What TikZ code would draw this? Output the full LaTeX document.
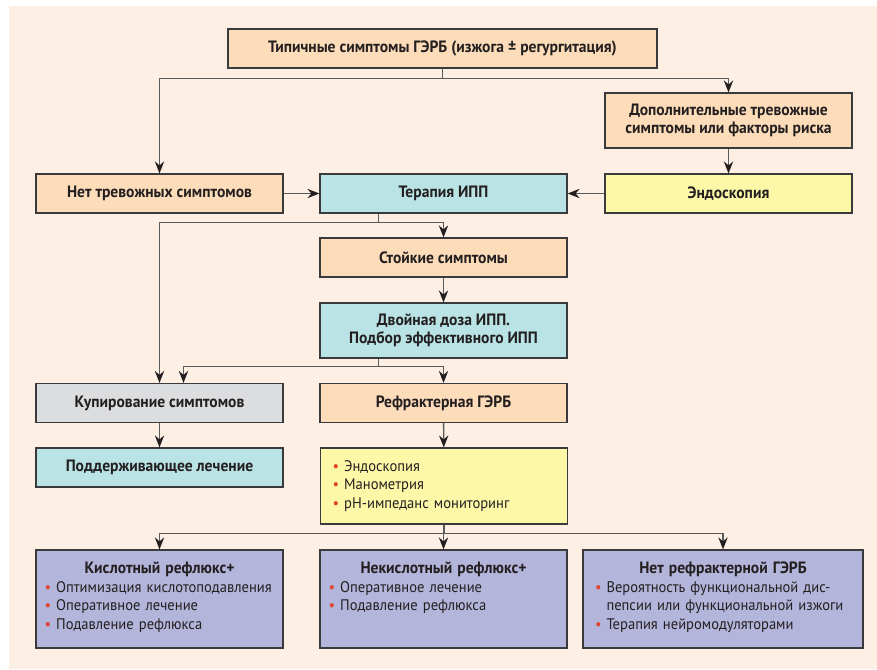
\documentclass[tikz,border=0pt]{standalone}
\usepackage{fontspec}
\setmainfont{PT Sans}[FakeStretch=0.95]
\usetikzlibrary{arrows.meta}
\definecolor{bgcream}{HTML}{FDEFE3}
\definecolor{peach}{HTML}{FDDCB9}
\definecolor{aqua}{HTML}{B9E3E4}
\definecolor{lemon}{HTML}{FDF8A8}
\definecolor{silver}{HTML}{DCDDDF}
\definecolor{lilac}{HTML}{B4B5DB}
\definecolor{edge}{HTML}{3A3A3C}
\definecolor{wirecol}{HTML}{5A5A5B}
\definecolor{bulred}{HTML}{E2432B}
\definecolor{ink}{HTML}{231F20}
\newcommand{\bul}{\makebox[0.75em][l]{\textcolor{bulred}{\textbullet}}}
\begin{document}
\begin{tikzpicture}[x=0.75pt,y=-0.75pt,>={Stealth[length=9pt,width=7pt,inset=3pt,color=ink]},
	box/.style={draw=edge,line width=0.9pt,minimum width=185.25pt,minimum height=29.25pt,inner sep=0pt,align=center,text=ink,font=\bfseries\fontsize{12.3}{13.5}\selectfont},
	tall/.style={minimum height=41.25pt},
	listbox/.style={box,fill=lemon,minimum height=57pt,text width=167pt,inner xsep=8.5pt,align=left,font=\fontsize{11.5}{14}\selectfont},
	outbox/.style={draw=edge,line width=0.9pt,fill=lilac,text=ink,inner ysep=6pt,text height=11.5pt,text depth=50pt,align=left,font=\fontsize{11.5}{14}\selectfont},
	wire/.style={draw=wirecol,line width=1pt}]
				\useasboundingbox (0,0) rectangle (877,669);
				\fill[bgcream] (9,6) rectangle (877,669);
				\node[box,fill=peach,minimum width=321.75pt] (top) at (442.5,48.5) {Типичные симптомы ГЭРБ (изжога ± регургитация)};
				\node[box,tall,fill=peach] (dop) at (728.5,120.5) {Дополнительные тревожные\\симптомы или факторы риска};
				\node[box,fill=lemon] (endo) at (728.5,193.5) {Эндоскопия};
				\node[box,fill=peach] (net) at (159.5,193.5) {Нет тревожных симптомов};
				\node[box,fill=aqua] (ipp) at (443.5,193.5) {Терапия ИПП};
				\node[box,fill=peach] (stoik) at (443.5,257.5) {Стойкие симптомы};
				\node[box,tall,fill=aqua] (dvoin) at (443.5,330.5) {Двойная доза ИПП.\\Подбор эффективного ИПП};
				\node[box,fill=silver] (kupir) at (159.5,403) {Купирование симптомов};
				\node[box,fill=peach] (refr) at (443.5,403) {Рефрактерная ГЭРБ};
				\node[box,fill=aqua] (podd) at (159.5,467.5) {Поддерживающее лечение};
				\node[listbox] (tests) at (444,486) {\bul Эндоскопия\\\bul Манометрия\\\bul pH-импеданс мониторинг};
				\node[outbox,inner xsep=6.5pt,text width=172.25pt] (acid) at (159.5,599) {{\centering\bfseries\fontsize{12.3}{14}\selectfont Кислотный рефлюкс+\par}\bul Оптимизация кислотоподавления\\\bul Оперативное лечение\\\bul Подавление рефлюкса};
				\node[outbox,inner xsep=6.5pt,text width=172.25pt] (nonacid) at (443.5,599) {{\centering\bfseries\fontsize{12.3}{14}\selectfont Некислотный рефлюкс+\par}\bul Оперативное лечение\\\bul Подавление рефлюкса};
				\node[outbox,inner xsep=9pt,text width=192pt] (nogerd) at (723,599) {{\centering\bfseries\fontsize{12.3}{14}\selectfont Нет рефрактерной ГЭРБ\par}\bul Вероятность функциональной дис-\\\hspace*{0.75em}пепсии или функциональной изжоги\\\bul Терапия нейромодуляторами};
				\draw[wire,->] (top.south) -- ++(0,10) -| (net.north);
				\draw[wire,->] (top.south) -- ++(0,10) -| (dop.north);
				\draw[wire,->] (dop) -- (endo);
				\draw[wire,->] (endo) -- (ipp);
				\draw[wire,->] (net) -- (ipp);
				\draw[wire,->] ([xshift=-49pt]ipp.south) -- ++(0,9) -| (kupir.north);
				\draw[wire,->] ([xshift=-49pt]ipp.south) -- ++(0,9) -| (stoik.north);
				\draw[wire,->] (stoik) -- (dvoin);
				\draw[wire,->] ([xshift=-49pt]dvoin.south) -- ++(0,8) -| ([xshift=18pt]kupir.north);
				\draw[wire,->] ([xshift=-49pt]dvoin.south) -- ++(0,8) -| (refr.north);
				\draw[wire,->] (kupir) -- (podd);
				\draw[wire,->] (refr) -- (tests);
				\foreach \t in {acid,nonacid,nogerd}{
					\draw[wire,->] (tests.south) -- ++(0,9) -| (\t.north);
				}
			\end{tikzpicture}
\end{document}
